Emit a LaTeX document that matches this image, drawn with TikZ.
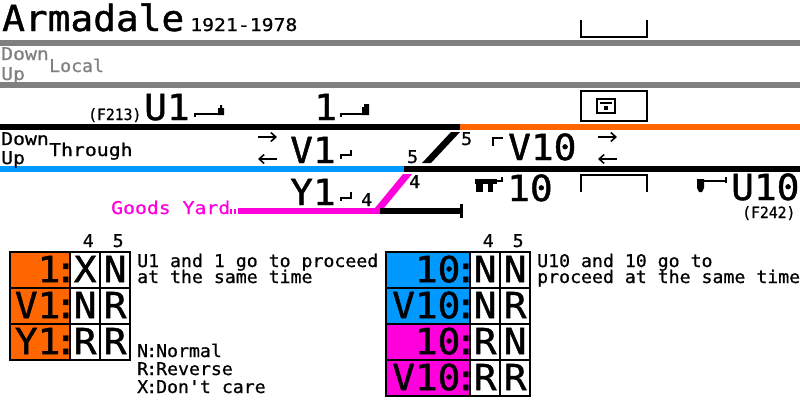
\documentclass[tikz,border=0pt]{standalone}
\usepackage{fontspec}
\usepackage{xcolor}
\usepackage{tikz}
\usetikzlibrary{positioning,matrix,arrows.meta}
\newfontfamily\pixsmall[FakeStretch=1.04,FakeBold=0.8]{DejaVu Sans Mono}
\newfontfamily\pixwide[FakeStretch=1.13,FakeBold=0.8]{DejaVu Sans Mono}
\newfontfamily\pixnarrow[FakeStretch=0.95,FakeBold=0.8]{DejaVu Sans Mono}
\newfontfamily\pixbig[FakeStretch=1.05,FakeBold=1.2]{DejaVu Sans Mono}
\newcommand{\smalltxt}{\pixsmall\fontsize{17.5}{17.5}\selectfont}
\newcommand{\widetxt}{\pixwide\fontsize{17.5}{17.5}\selectfont}
\newcommand{\narrowtxt}{\pixnarrow\fontsize{15.5}{15.5}\selectfont}
\newcommand{\bigtxt}{\pixbig\fontsize{36}{36}\selectfont}
\newcommand{\cn}[1]{\mbox{#1\kern-6pt:\kern-8pt}}
\definecolor{uporange}{RGB}{255,102,0}
\definecolor{upblue}{RGB}{0,153,255}
\definecolor{yardpink}{RGB}{255,0,221}
\definecolor{localgray}{RGB}{128,128,128}
\tikzset{
  small/.style={font=\smalltxt, inner sep=0pt, anchor=base west},
  wide/.style={font=\widetxt, inner sep=0pt, anchor=base west},
  narrow/.style={font=\narrowtxt, inner sep=0pt, anchor=base west},
  big/.style={font=\bigtxt, inner sep=0pt, anchor=base west, text depth=0pt},
  frm/.style={line width=2pt},
  dirarrow/.style={-{Straight Barb[length=5pt, width=9pt, line width=1.6pt]}, line width=2pt},
  lockbase/.style={matrix of nodes, ampersand replacement=\amp, inner sep=0pt,
                   row sep=-2pt, column sep=-2pt, anchor=north west,
                   nodes={draw, line width=2pt, outer sep=0pt, inner sep=0pt, font=\bigtxt,
                          minimum height=36pt, text height=24pt, text depth=0pt, anchor=center},
                   column 2/.style={nodes={minimum width=30pt}},
                   column 3/.style={nodes={minimum width=30pt}}},
  orangec/.style={fill=uporange},
  bluec/.style={fill=upblue},
  pinkc/.style={fill=yardpink}
}
\begin{document}
\begin{tikzpicture}[x=1pt,y=-1pt]
\useasboundingbox (0,0) rectangle (800,400);
% heading
\node[big] (title) at (2,31) {Armadale};
\node[wide] (years) at (190,31) {1921-1978};
% local lines
\fill[localgray] (0,40) rectangle (800,46);
\fill[localgray] (0,82) rectangle (800,88);
\node[wide, text=localgray] (localdown) at (1,60) {Down};
\node[wide, text=localgray] (localup) at (1,80) {Up};
\node[small, text=localgray] (localname) at (49,72) {Local};
% platforms
\draw[frm] (581,20) -- (581,37) -- (647,37) -- (647,20);
\draw[frm] (581,91) rectangle (647,121);
\draw[frm] (597,99) rectangle (615,113);
\draw[frm] (600,103) -- (612,103);
\fill (604,106) rectangle (608,110);
\draw[frm] (581,192) -- (581,175) -- (647,175) -- (647,192);
% through lines
\fill (0,124) rectangle (460,130);
\fill[uporange] (460,124) rectangle (800,130);
\fill[upblue] (0,166) rectangle (404,172);
\fill (404,166) rectangle (800,172);
\fill (378,208) rectangle (461,214);
\fill (460,204) rectangle (463,218);
\fill[yardpink] (238,208) rectangle (380,214);
\fill[yardpink] (230,209) rectangle (232,214);
\fill[yardpink] (234,209) rectangle (236,214);
\fill[yardpink] (375,208) -- (384,208) -- (412,174) -- (403,174) -- cycle;
\fill (422,163) -- (431,163) -- (460,132) -- (451,132) -- cycle;
\node[wide] (thrudown) at (1,145) {Down};
\node[wide] (thruup) at (1,164) {Up};
\node[wide] (thruname) at (49,156) {Through};
% direction arrows
\coordinate (dna) at (258,137);
\coordinate (dnb) at (277,137);
\coordinate (upa) at (277,159);
\coordinate (upb) at (258,159);
\coordinate (dnc) at (598,137);
\coordinate (dnd) at (617,137);
\coordinate (upc) at (617,159);
\coordinate (upd) at (598,159);
\draw[dirarrow] (dna) -- (dnb);
\draw[dirarrow] (upa) -- (upb);
\draw[dirarrow] (dnc) -- (dnd);
\draw[dirarrow] (upc) -- (upd);
% signals
\node[narrow] (f213) at (88,120) {(F213)};
\node[big] (sigua) at (144,120) {U1};
\node[big] (sigone) at (314,120) {1};
\node[big] (sigva) at (290,163) {V1};
\node[big] (sigya) at (290,205) {Y1};
\node[big] (sigvb) at (508,160) {V10};
\node[big] (sigten) at (507,201) {10};
\node[big] (sigub) at (731,200) {U10};
\node[narrow] (f242) at (742,218) {(F242)};
\node[wide, text=yardpink] (goods) at (111,214) {Goods Yard};
% point numbers
\node[small] (pta) at (361,206) {4};
\node[small] (ptb) at (409,188) {4};
\node[small] (ptc) at (407,163) {5};
\node[small] (ptd) at (461,145) {5};
% signal arms
\draw[frm] (195,117) -- (195,114) -- (222,114);
\fill (218,115) -- (218,108) -- (220,108) -- (220,105) -- (222,105) -- (222,108) -- (224,108) -- (224,115) -- cycle;
\draw[frm] (341,117) -- (341,114) -- (364,114);
\fill (362,115) -- (362,107) -- (364,107) -- (364,104) -- (369,104) -- (369,115) -- cycle;
\draw[frm] (341,159) -- (341,155) -- (351,155) -- (351,150);
\draw[frm] (341,201) -- (341,198) -- (351,198) -- (351,192);
\draw[frm] (493,146) -- (493,138) -- (503,138);
\fill (475,179) rectangle (497,184);
\fill (476,179) rectangle (483,192);
\fill (488,179) rectangle (493,192);
\draw[frm] (497,181) -- (503,181);
\draw[frm] (502,177) -- (502,182);
\draw[frm] (700,181) -- (726,181);
\draw[frm] (726,177) -- (726,183);
\fill (697,179) -- (704,179) -- (704,188) -- (702,192) -- (699,192) -- (697,188) -- cycle;
% locking tables
\matrix (lockl) [lockbase, at={(9,251)}, column 1/.style={nodes={minimum width=60pt, text width=58pt, align=right}}] {
  |[orangec]| \cn{1} \amp X \amp N \\
  |[orangec]| \cn{V1} \amp N \amp R \\
  |[orangec]| \cn{Y1} \amp R \amp R \\
};
\matrix (lockr) [lockbase, at={(385,251)}, column 1/.style={nodes={minimum width=84pt, text width=82pt, align=right}}] {
  |[bluec]| \cn{10} \amp N \amp N \\
  |[bluec]| \cn{V10} \amp N \amp R \\
  |[pinkc]| \cn{10} \amp R \amp N \\
  |[pinkc]| \cn{V10} \amp R \amp R \\
};
\node[small, anchor=base, xshift=3pt] (lhfour) at (lockl-1-2.north |- 0,247) {4};
\node[small, anchor=base, xshift=3pt] (lhfive) at (lockl-1-3.north |- 0,247) {5};
\node[small, anchor=base, xshift=3pt] (rhfour) at (lockr-1-2.north |- 0,247) {4};
\node[small, anchor=base, xshift=3pt] (rhfive) at (lockr-1-3.north |- 0,247) {5};
% notes
\node[small] (notela) at (137,267) {U1 and 1 go to proceed};
\node[small] (notelb) at (137,283) {at the same time};
\node[small] (notera) at (537,267) {U10 and 10 go to};
\node[small] (noterb) at (537,283) {proceed at the same time};
\node[small] (keyn) at (137,357) {N\kern-2pt:\kern-1pt Normal};
\node[small] (keyr) at (137,375) {R\kern-2pt:\kern-1pt Reverse};
\node[small] (keyx) at (137,393) {X\kern-2pt:\kern-1pt Don't care};
\end{tikzpicture}
\end{document}
